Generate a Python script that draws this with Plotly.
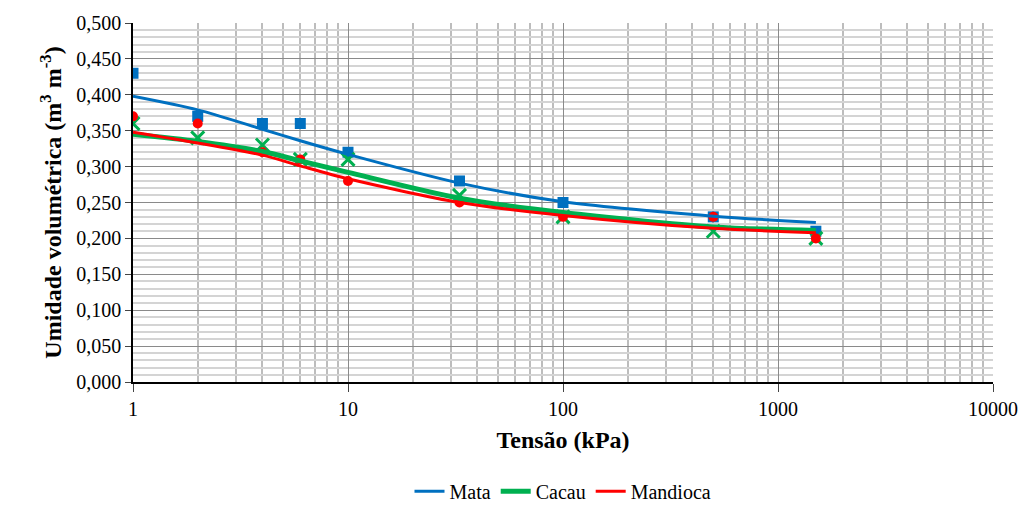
import plotly.graph_objects as go

tensao = [1, 2, 4, 6, 10, 33, 100, 500, 1500]

mata_obs = [0.43, 0.37, 0.36, 0.36, 0.32, 0.28, 0.25, 0.23, 0.21]
cacau_obs = [0.36, 0.34, 0.33, 0.31, 0.31, 0.26, 0.23, 0.21, 0.20]
mandioca_obs = [0.37, 0.36, 0.32, 0.31, 0.28, 0.25, 0.23, 0.23, 0.20]

mata_fit = [0.398, 0.379, 0.352, 0.336, 0.317, 0.277, 0.251, 0.231, 0.222]
cacau_fit = [0.345, 0.335, 0.321, 0.308, 0.292, 0.256, 0.236, 0.216, 0.211]
mandioca_fit = [0.348, 0.333, 0.316, 0.301, 0.283, 0.250, 0.232, 0.214, 0.208]

x_tickvals = [1, 10, 100, 1000, 10000]
x_ticktext = ["1", "10", "100", "1000", "10000"]
x_minor_vals = [m * d for d in (1, 10, 100, 1000) for m in range(2, 10)]

BLUE = "#0070C0"
GREEN = "#00B050"
RED = "#FF0000"
FONT = "Liberation Serif"

fig = go.Figure()

fig.add_trace(go.Scatter(x=tensao, y=mata_obs, mode="markers", showlegend=False,
                         marker=dict(symbol="square", size=11, color=BLUE)))
fig.add_trace(go.Scatter(x=tensao, y=cacau_obs, mode="markers", showlegend=False,
                         marker=dict(symbol="x-thin", size=13, color=GREEN,
                                     line=dict(width=3, color=GREEN))))
fig.add_trace(go.Scatter(x=tensao, y=mandioca_obs, mode="markers", showlegend=False,
                         marker=dict(symbol="circle", size=10, color=RED)))

fig.add_trace(go.Scatter(x=tensao, y=mata_fit, mode="lines", name="Mata",
                         line=dict(color=BLUE, width=3, shape="spline", smoothing=0.8)))
fig.add_trace(go.Scatter(x=tensao, y=cacau_fit, mode="lines", name="Cacau",
                         line=dict(color=GREEN, width=5, shape="spline", smoothing=0.8)))
fig.add_trace(go.Scatter(x=tensao, y=mandioca_fit, mode="lines", name="Mandioca",
                         line=dict(color=RED, width=3, shape="spline", smoothing=0.8)))

fig.update_layout(
    width=1033, height=522,
    margin=dict(l=133, r=40, t=19, b=128),
    paper_bgcolor="white", plot_bgcolor="white",
    separators=",.",
    font=dict(family=FONT, size=20, color="black"),
    legend=dict(orientation="h", x=0.5, xanchor="center", y=-0.304, yanchor="middle"),
    xaxis=dict(
        type="log", range=[0, 4],
        tickmode="array", tickvals=x_tickvals, ticktext=x_ticktext,
        ticks="outside", ticklen=8,
        showline=True, linecolor="black", linewidth=1.5,
        showgrid=True, gridcolor="#8a8a8a", gridwidth=1,
        title=dict(text="<b>Tensão (kPa)</b>", standoff=12),
        minor=dict(tickmode="array", tickvals=x_minor_vals, showgrid=True,
                   gridcolor="#bdbdbd", gridwidth=1.5),
        zeroline=False,
    ),
    yaxis=dict(
        range=[0, 0.5], dtick=0.05, tickformat=".3f",
        ticks="outside", ticklen=6,
        showline=True, linecolor="black", linewidth=1.5,
        showgrid=True, gridcolor="#8a8a8a", gridwidth=1,
        title=dict(text="<b>Umidade volumétrica (m<sup>3</sup> m<sup>-3</sup>)</b>", standoff=8),
        minor=dict(dtick=0.01, showgrid=True, gridcolor="#d4d4d4", gridwidth=2),
        zeroline=False,
    ),
)

fig.write_html("out.html")
